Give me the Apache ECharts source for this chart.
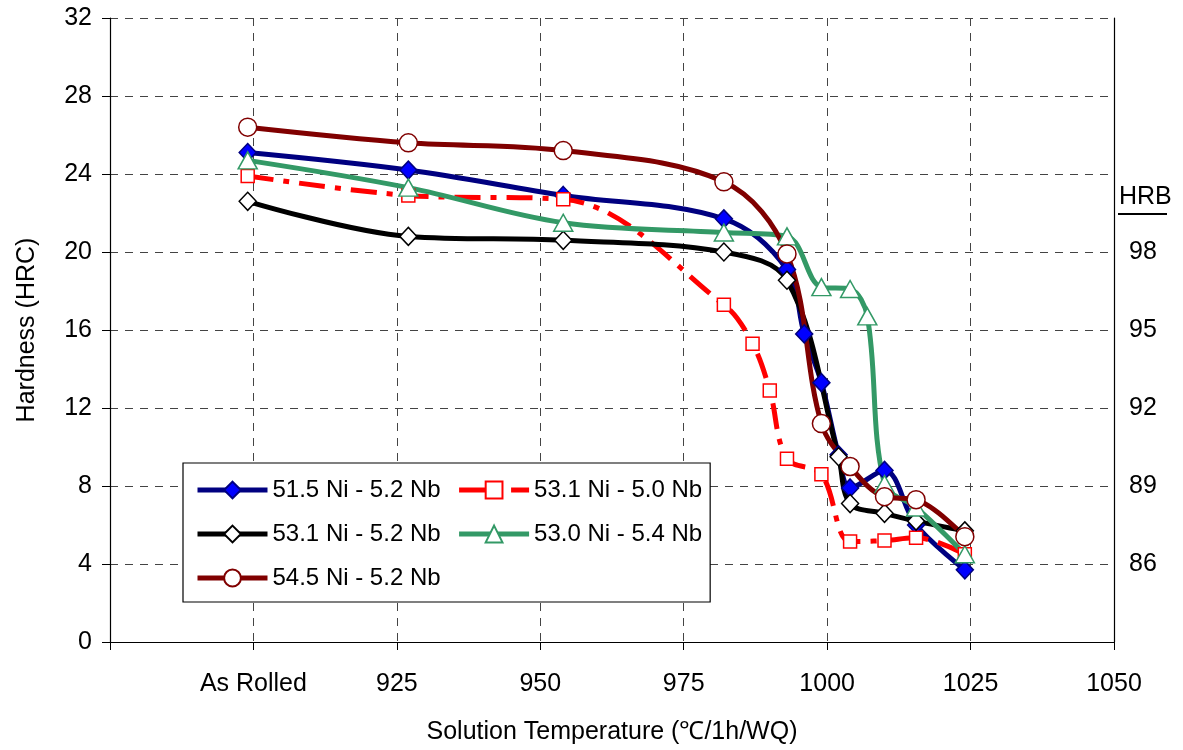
<!DOCTYPE html>
<html>
<head>
<meta charset="utf-8">
<title>Hardness vs solution temperature</title>
<script src="https://cdn.jsdelivr.net/npm/echarts/dist/echarts.min.js"></script>
<style>
  html, body { margin: 0; padding: 0; background: #fff; }
  #chart { width: 1183px; height: 750px; }
</style>
</head>
<body>
<div id="chart"></div>
<script>
// x tick labels (value axis, "As Rolled" sits at the 900 slot)
const xTickLabels = { 900: 'As Rolled', 925: '925', 950: '950', 975: '975', 1000: '1000', 1025: '1025', 1050: '1050' }
// right-hand HRB scale, keyed by the HRC value it lines up with
const hrbTickLabels = { 4: '86', 8: '89', 12: '92', 16: '95', 20: '98' }

const legendNames = ['51.5 Ni - 5.2 Nb', '53.1 Ni - 5.0 Nb', '53.1 Ni - 5.2 Nb', '53.0 Ni - 5.4 Nb', '54.5 Ni - 5.2 Nb']

// 51.5 Ni - 5.2 Nb
const tempA = [899, 927, 954, 982, 993, 996, 999, 1002, 1004, 1010, 1015.5, 1024]
const hrcA = [25.1, 24.2, 22.9, 21.7, 19.1, 15.8, 13.3, 9.6, 7.9, 8.8, 6.0, 3.7]

// 53.1 Ni - 5.0 Nb
const tempB = [899, 927, 954, 982, 987, 990, 993, 999, 1004, 1010, 1015.5, 1024]
const hrcB = [23.9, 22.9, 22.7, 17.3, 15.3, 12.9, 9.4, 8.6, 5.15, 5.2, 5.35, 4.5]

// 53.1 Ni - 5.2 Nb
const tempC = [899, 927, 954, 982, 993, 1002, 1004, 1010, 1015.5, 1024]
const hrcC = [22.6, 20.8, 20.6, 20.0, 18.55, 9.5, 7.1, 6.6, 6.2, 5.7]

// 53.0 Ni - 5.4 Nb
const tempD = [899, 927, 954, 982, 993, 999, 1004, 1007, 1010, 1015.5, 1024]
const hrcD = [24.7, 23.3, 21.5, 21.0, 20.8, 18.2, 18.1, 16.7, 8.1, 6.9, 4.5]

// 54.5 Ni - 5.2 Nb
const tempE = [899, 927, 954, 982, 993, 999, 1004, 1010, 1015.5, 1024]
const hrcE = [26.4, 25.6, 25.2, 23.6, 19.9, 11.2, 9.0, 7.45, 7.3, 5.4]

const FONT = "'Liberation Sans', Arial, sans-serif"

const pairs = (xs, ys) => xs.map((x, i) => [x, ys[i]])

const makeSeries = (name, xs, ys, lineColor, lineType, symbol, symbolSize, fill, border) => ({
  name: name,
  type: 'line',
  data: pairs(xs, ys),
  smooth: 0.35,
  showAllSymbol: true,
  symbol: symbol,
  symbolSize: symbolSize,
  lineStyle: { color: lineColor, width: 5, type: lineType },
  itemStyle: { color: fill, borderColor: border, borderWidth: 1.5 },
  emphasis: { disabled: true }
})

const chart = echarts.init(document.getElementById('chart'), null, { renderer: 'canvas' })

const option = {
  animation: false,
  backgroundColor: '#ffffff',
  textStyle: { fontFamily: FONT },
  grid: { left: 110, right: 69, top: 18, bottom: 108, containLabel: false, outerBoundsMode: 'none' },
  legend: {
    data: legendNames,
    left: 183,
    top: 463,
    width: 515,
    orient: 'horizontal',
    padding: [13, 8, 10, 12],
    itemGap: 16,
    itemWidth: 70,
    itemHeight: 21,
    backgroundColor: '#ffffff',
    borderColor: '#000000',
    borderWidth: 1.2,
    lineStyle: { width: 5 },
    textStyle: { fontFamily: FONT, fontSize: 24, color: '#000', lineHeight: 28 }
  },
  xAxis: {
    type: 'value',
    min: 875,
    max: 1050,
    interval: 25,
    name: 'Solution Temperature (℃/1h/WQ)',
    nameLocation: 'middle',
    nameGap: 78,
    nameTextStyle: { fontFamily: FONT, fontSize: 25, color: '#000' },
    axisLine: { show: true, lineStyle: { color: '#000', width: 1.2 } },
    axisTick: { show: true, inside: false, length: 8, lineStyle: { color: '#000' } },
    axisLabel: {
      margin: 30,
      fontFamily: FONT,
      fontSize: 25,
      color: '#000',
      formatter: v => xTickLabels[v] || ''
    },
    splitLine: { show: true, lineStyle: { color: '#444', width: 1, type: [8, 7] } }
  },
  yAxis: [
    {
      type: 'value',
      min: 0,
      max: 32,
      interval: 4,
      name: 'Hardness (HRC)',
      nameLocation: 'middle',
      nameGap: 70,
      nameTextStyle: { fontFamily: FONT, fontSize: 25, color: '#000' },
      axisLine: { show: true, lineStyle: { color: '#000', width: 1.2 } },
      axisTick: { show: true, inside: false, length: 8, lineStyle: { color: '#000' } },
      axisLabel: { margin: 18, fontFamily: FONT, fontSize: 25, color: '#000' },
      splitLine: { show: true, lineStyle: { color: '#444', width: 1, type: [8, 7] } }
    },
    {
      type: 'value',
      position: 'right',
      min: 0,
      max: 32,
      interval: 4,
      axisLine: { show: true, lineStyle: { color: '#000', width: 1.2 } },
      axisTick: { show: false },
      axisLabel: {
        margin: 15,
        fontFamily: FONT,
        fontSize: 25,
        color: '#000',
        formatter: v => hrbTickLabels[v] || ''
      },
      splitLine: { show: false }
    }
  ],
  graphic: [
    {
      type: 'text',
      left: 1119,
      top: 185,
      style: { text: 'HRB', font: '25px ' + FONT, fill: '#000' }
    },
    {
      type: 'line',
      shape: { x1: 1118, y1: 214, x2: 1167, y2: 214 },
      style: { stroke: '#000', lineWidth: 2 }
    }
  ],
  series: [
    makeSeries(legendNames[0], tempA, hrcA, '#000080', 'solid', 'diamond', [17, 18], '#0000ff', '#000080'),
    makeSeries(legendNames[1], tempB, hrcB, '#ff0000', [26, 10, 6, 10], 'rect', 13, '#ffffff', '#ff0000'),
    makeSeries(legendNames[2], tempC, hrcC, '#000000', 'solid', 'diamond', [17, 18], '#ffffff', '#000000'),
    makeSeries(legendNames[3], tempD, hrcD, '#339966', 'solid', 'triangle', [19, 17], '#ffffff', '#339966'),
    makeSeries(legendNames[4], tempE, hrcE, '#800000', 'solid', 'circle', 18, '#ffffff', '#800000')
  ]
}

chart.setOption(option)
</script>
</body>
</html>
